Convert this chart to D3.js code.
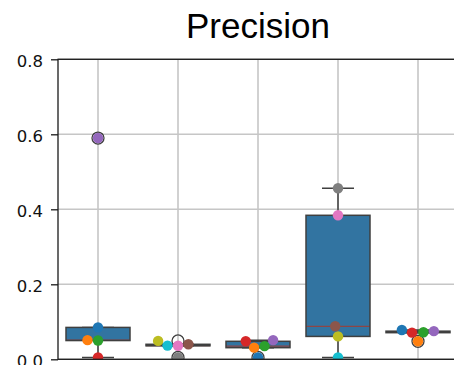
<!DOCTYPE html>
<html>
<head>
<meta charset="utf-8" />
<title>Precision</title>
<script src="https://d3js.org/d3.v7.min.js"></script>
<style>
  body { margin: 0; background: #fff; }
  svg { display: block; }
</style>
</head>
<body>
<script>
// categories on the x axis (labels fall below the visible window)
const categories = ["1", "2", "3", "4", "5"];

// tab10 colour of each point, per category
const pointColors = [
  ["blue", "orange", "green", "red", "purple"],
  ["olive", "cyan", "pink", "brown", "gray"],
  ["blue", "orange", "green", "red", "purple"],
  ["olive", "cyan", "pink", "brown", "gray"],
  ["blue", "orange", "green", "red", "purple"]
];

// precision values, same order as pointColors
const precisionValues = [
  [0.085, 0.051, 0.050, 0.005, 0.590],
  [0.049, 0.0365, 0.036, 0.040, 0.005],
  [0.005, 0.031, 0.035, 0.048, 0.051],
  [0.061, 0.005, 0.384, 0.088, 0.456],
  [0.078, 0.048, 0.072, 0.071, 0.075]
];

const yTicks = [0, 0.2, 0.4, 0.6, 0.8];

const tab10 = {
  blue: "#1f77b4", orange: "#ff7f0e", green: "#2ca02c", red: "#d62728",
  purple: "#9467bd", brown: "#8c564b", pink: "#e377c2", gray: "#7f7f7f",
  olive: "#bcbd22", cyan: "#17becf"
};

const W = 454, H = 365;
const plot = { left: 58, right: 458, top: 59.3, bottom: 359.3 };
const lineGray = "#3f3f3f";
const dotR = 5.2, dotGap = 10.5;

const svg = d3.select("body").append("svg")
  .attr("width", W).attr("height", H);

svg.append("defs").append("clipPath").attr("id", "plotClip")
  .append("rect")
  .attr("x", plot.left).attr("y", plot.top)
  .attr("width", plot.right - plot.left)
  .attr("height", plot.bottom - plot.top);

const x = d3.scaleBand().domain(categories).range([plot.left, plot.right]).padding(0);
const y = d3.scaleLinear().domain([0, 0.8]).range([plot.bottom, plot.top]);
const cx = c => x(c) + x.bandwidth() / 2;

// grid
const grid = svg.append("g");
grid.selectAll("line.h").data(yTicks).join("line")
  .attr("x1", plot.left).attr("x2", plot.right)
  .attr("y1", d => y(d)).attr("y2", d => y(d))
  .attr("stroke", "#c6c6c6").attr("stroke-width", 1.6);
grid.selectAll("line.v").data(categories).join("line")
  .attr("x1", cx).attr("x2", cx)
  .attr("y1", plot.top).attr("y2", plot.bottom)
  .attr("stroke", "#c6c6c6").attr("stroke-width", 1.6);

const body = svg.append("g").attr("clip-path", "url(#plotClip)");
const boxW = x.bandwidth() * 0.8;

categories.forEach(function(cat, i) {
  const vals = precisionValues[i].slice().sort(d3.ascending);
  const q1 = d3.quantile(vals, 0.25);
  const med = d3.quantile(vals, 0.5);
  const q3 = d3.quantile(vals, 0.75);
  const iqr = q3 - q1;
  const lo = d3.min(vals.filter(v => v >= q1 - 1.5 * iqr));
  const hi = d3.max(vals.filter(v => v <= q3 + 1.5 * iqr));
  const fliers = vals.filter(v => v < lo || v > hi);
  const c = cx(cat);
  const g = body.append("g");

  // whiskers
  g.append("line").attr("x1", c).attr("x2", c)
    .attr("y1", y(q3)).attr("y2", y(hi))
    .attr("stroke", lineGray).attr("stroke-width", 1.5);
  g.append("line").attr("x1", c).attr("x2", c)
    .attr("y1", y(q1)).attr("y2", y(lo))
    .attr("stroke", lineGray).attr("stroke-width", 1.5);
  [lo, hi].forEach(function(v) {
    g.append("line").attr("x1", c - boxW / 4).attr("x2", c + boxW / 4)
      .attr("y1", y(v)).attr("y2", y(v))
      .attr("stroke", lineGray).attr("stroke-width", 1.5);
  });
  // box: fill, median, then outline on top
  g.append("rect")
    .attr("x", c - boxW / 2).attr("width", boxW)
    .attr("y", y(q3)).attr("height", Math.max(y(q1) - y(q3), 0.01))
    .attr("fill", "#3274a1");
  g.append("line").attr("x1", c - boxW / 2).attr("x2", c + boxW / 2)
    .attr("y1", y(med)).attr("y2", y(med))
    .attr("stroke", "#8e4545").attr("stroke-width", 1.2);
  g.append("rect")
    .attr("x", c - boxW / 2).attr("width", boxW)
    .attr("y", y(q3)).attr("height", Math.max(y(q1) - y(q3), 0.01))
    .attr("fill", "none")
    .attr("stroke", lineGray).attr("stroke-width", 1.5);
  // fliers
  g.selectAll("circle.flier").data(fliers).join("circle")
    .attr("cx", c).attr("cy", d => y(d)).attr("r", 6)
    .attr("fill", "none").attr("stroke", lineGray).attr("stroke-width", 1.3);
});

// swarm points: sorted by value, each placed at the free offset nearest the centre
function swarm(vals, center) {
  const order = d3.range(vals.length).sort((a, b) => vals[a] - vals[b] || a - b);
  const placed = [];
  const out = new Array(vals.length);
  order.forEach(function(k) {
    const py = y(vals[k]);
    let cands = [0];
    placed.forEach(function(p) {
      const dy = Math.abs(p.y - py);
      if (dy < dotGap) {
        const dx = Math.sqrt(dotGap * dotGap - dy * dy);
        cands.push(p.dx - dx, p.dx + dx);
      }
    });
    cands = cands.map((v, j) => [v, j]).sort((a, b) => Math.abs(a[0]) - Math.abs(b[0]) || a[1] - b[1]);
    let chosen = cands[0][0];
    for (const cd of cands) {
      const ok = placed.every(p => Math.hypot(p.dx - cd[0], p.y - py) >= dotGap - 1e-6);
      if (ok) { chosen = cd[0]; break; }
    }
    placed.push({ dx: chosen, y: py });
    out[k] = { x: center + chosen, y: py };
  });
  return out;
}

categories.forEach(function(cat, i) {
  const pts = swarm(precisionValues[i], cx(cat));
  body.append("g").selectAll("circle").data(pts).join("circle")
    .attr("cx", d => d.x).attr("cy", d => d.y).attr("r", dotR)
    .attr("fill", (d, k) => tab10[pointColors[i][k]]);
});

// spines
svg.append("rect")
  .attr("x", plot.left).attr("y", plot.top)
  .attr("width", plot.right - plot.left).attr("height", plot.bottom - plot.top)
  .attr("fill", "none").attr("stroke", "#1a1a1a").attr("stroke-width", 1.3);

// y axis
const yAxis = svg.append("g")
  .attr("transform", `translate(${plot.left},0)`)
  .call(d3.axisLeft(y).tickValues(yTicks).tickFormat(d3.format(".1f"))
    .tickSize(7).tickSizeOuter(0).tickPadding(8));
yAxis.select(".domain").remove();
yAxis.selectAll(".tick line").attr("stroke", "#1a1a1a").attr("stroke-width", 1.3);
yAxis.selectAll(".tick text")
  .attr("fill", "#111")
  .attr("dy", "0.42em")
  .style("font-family", "'DejaVu Sans', sans-serif")
  .style("font-size", "16.5px");

// title
svg.append("text")
  .attr("x", (plot.left + plot.right) / 2).attr("y", 38)
  .attr("text-anchor", "middle")
  .style("font-family", "'Liberation Sans', Arial, sans-serif")
  .style("font-size", "35px")
  .attr("fill", "#000")
  .text("Precision");
</script>
</body>
</html>
